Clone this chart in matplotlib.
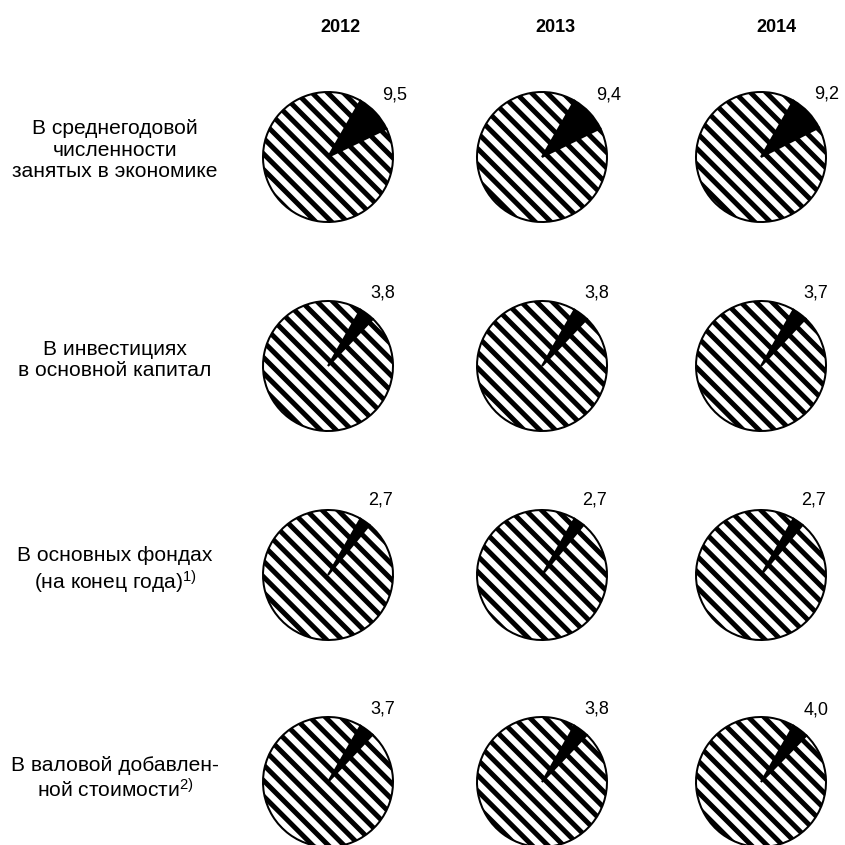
import matplotlib
matplotlib.use("Agg")
import matplotlib.pyplot as plt

DPI = 94
PT = 72 / DPI  # пиксели -> пункты

plt.rcParams['font.family'] = ['Liberation Sans', 'DejaVu Sans']
plt.rcParams['mathtext.fontset'] = 'custom'
plt.rcParams['mathtext.rm'] = 'Liberation Sans'
plt.rcParams['mathtext.default'] = 'regular'
plt.rcParams['hatch.linewidth'] = 5 * PT
plt.rcParams['hatch.color'] = 'black'

# данные
years = ['2012', '2013', '2014']
row_labels = [
    'В среднегодовой\nчисленности\nзанятых в экономике',
    'В инвестициях\nв основной капитал',
    'В основных фондах\n(на конец года)$^{1)}$',
    'В валовой добавлен-\nной стоимости$^{2)}$',
]
employment = [9.5, 9.4, 9.2]
investment = [3.8, 3.8, 3.7]
fixed_assets = [2.7, 2.7, 2.7]
gva = [3.7, 3.8, 4.0]
rows = [employment, investment, fixed_assets, gva]

W = 845
fig = plt.figure(figsize=(W / DPI, W / DPI), dpi=DPI)
ax = fig.add_axes([0, 0, 1, 1])

col_x = [328, 542, 761]
row_y = [157, 366, 575, 782]
radius = 65

for i, vals in enumerate(rows):
    for j, v in enumerate(vals):
        lab = ('%.1f' % v).replace('.', ',')
        wedges, texts = ax.pie([v, 100 - v], labels=[lab, ''],
                               startangle=60, counterclock=False,
                               center=(col_x[j], W - row_y[i]), radius=radius,
                               colors=['black', 'white'], labeldistance=1.4,
                               wedgeprops=dict(edgecolor='black', linewidth=2 * PT),
                               textprops=dict(fontsize=18 * PT))
        wedges[1].set_hatch('\\\\')
        for t in texts:
            t.set_ha('center')
            t.set_va('center')

year_x = [340, 555, 776]
for j, y in enumerate(years):
    ax.text(year_x[j], W - 27, y, ha='center', va='center',
            fontsize=18 * PT, fontweight='bold')

label_y = [150, 360, 571, 779]
for i, lab in enumerate(row_labels):
    ax.text(115, W - label_y[i], lab, ha='center', va='center',
            fontsize=21 * PT, linespacing=1.15)

ax.set_xlim(0, W)
ax.set_ylim(0, W)
ax.set_aspect('equal')
ax.axis('off')

fig.savefig('out.png', dpi=DPI)
